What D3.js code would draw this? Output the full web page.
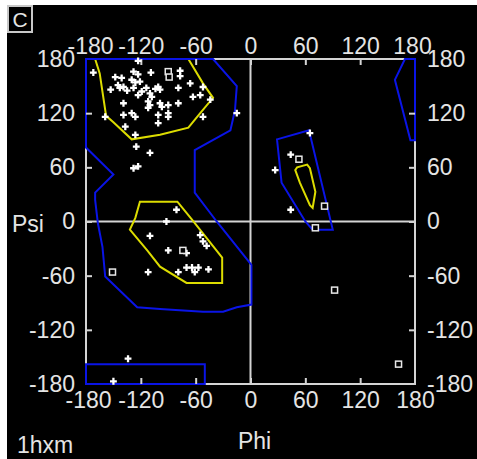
<!DOCTYPE html>
<html>
<head>
<meta charset="utf-8">
<script src="https://cdn.jsdelivr.net/npm/d3@7"></script>
<style>
html, body { margin: 0; padding: 0; background: #fff; }
svg { display: block; }
</style>
</head>
<body>
<div id="chart"></div>
<script>
// axis tick values
const phiTicks = [-180, -120, -60, 0, 60, 120, 180];
const psiTicks = [-180, -120, -60, 0, 60, 120, 180];

// allowed regions (blue), [phi, psi]
const allowedMain = [[-180,180],[-41,180],[-15,150],[-17,123],[-22,101],[-61,79],[-61,32],[-37,0],[1,-48],[1,-92],[-15,-95],[-30,-100],[-52,-100],[-99,-97],[-124,-95],[-159,-61],[-162,-28],[-167,-2],[-170,24],[-170,32],[-150,52],[-180,82]];
const allowedBottom = [[-180,-158],[-50,-158],[-50,-180],[-180,-180]];
const allowedEdge = [[169,180],[180,180],[180,90],[175,90],[158,157]];
const allowedLeftHand = [[29,91],[64,101],[90,-9],[68,-9],[60,0],[34,43]];

// core regions (yellow)
const coreBeta = [[-170,180],[-165,164],[-158,117],[-150,110],[-130,91],[-99,96],[-68,104],[-55,120],[-41,137],[-52,153],[-68,180]];
const coreAlpha = [[-121,22],[-80,22],[-64,2],[-31,-40],[-31,-68],[-70,-68],[-99,-50],[-113,-32],[-132,-9],[-126,4]];
const coreLeftHand = [[49,57],[51,60],[62,63],[65,59],[71,33],[68,15],[65,18],[54,43]];

// residues (non-glycine), [phi, psi]
const residues = [
  [-172,165],[-123,178],[-128,166],[-123,163],[-109,165],[-77,167],[-77,161],[-148,160],[-141,159],
  [-145,151],[-143,148],[-139,149],[-130,157],[-126,154],[-121,155],[-153,146],[-135,145],[-128,148],
  [-123,140],[-119,144],[-114,148],[-110,142],[-108,138],[-104,147],[-101,149],[-99,146],[-112,133],
  [-110,129],[-112,126],[-99,131],[-97,127],[-90,129],[-79,148],[-66,153],[-79,131],[-63,138],
  [-55,140],[-52,149],[-44,135],[-139,131],[-159,116],[-139,118],[-130,120],[-126,116],[-101,118],
  [-90,116],[-90,120],[-101,109],[-52,116],[-137,105],[-126,96],[-125,83],[-110,76],[-15,120],
  [-128,59],[-123,61],
  [-81,13],[-92,0],[-110,-16],[-90,-32],[-70,-35],[-55,-15],[-52,-22],[-48,-27],[-112,-56],
  [-79,-56],[-70,-51],[-64,-51],[-61,-56],[-57,-51],[-46,-53],
  [-134,-152],[-150,-177],
  [65,98],[44,74],[27,57],[44,13]
];
// glycines (squares)
const glycines = [[-90,166],[-89,160],[-74,-32],[-151,-56],[53,69],[81,17],[71,-7],[92,-76],[162,-158]];

const W = 477, H = 459;
const fontFam = '"Liberation Sans Narrow", "Liberation Sans", Arial, sans-serif';
const lineCol = "#d4d4d4";
const textCol = "#e4e4e4";

const svg = d3.select("#chart").append("svg")
  .attr("width", W).attr("height", H);

svg.append("rect").attr("x", 7).attr("y", 5)
  .attr("width", W - 7).attr("height", H - 5).attr("fill", "#000");

const x = d3.scaleLinear().domain([-180, 180]).range([86, 415]);
const y = d3.scaleLinear().domain([-180, 180]).range([384, 59]);

// frame + zero lines
svg.append("rect")
  .attr("x", x(-180)).attr("y", y(180))
  .attr("width", x(180) - x(-180)).attr("height", y(-180) - y(180))
  .attr("fill", "none").attr("stroke", lineCol).attr("stroke-width", 2);
svg.append("line").attr("x1", x(0)).attr("x2", x(0)).attr("y1", y(180)).attr("y2", y(-180))
  .attr("stroke", lineCol).attr("stroke-width", 2);
svg.append("line").attr("x1", x(-180)).attr("x2", x(180)).attr("y1", y(0)).attr("y2", y(0))
  .attr("stroke", lineCol).attr("stroke-width", 2);

const line = d3.line().x(d => x(d[0])).y(d => y(d[1]));

svg.selectAll(".core")
  .data([coreBeta, coreAlpha, coreLeftHand])
  .join("path")
  .attr("class", "core")
  .attr("d", d => line(d) + "Z")
  .attr("fill", "none").attr("stroke", "#dcdc00").attr("stroke-width", 2);

svg.selectAll(".allowed")
  .data([allowedMain, allowedBottom, allowedEdge, allowedLeftHand])
  .join("path")
  .attr("class", "allowed")
  .attr("d", d => line(d) + "Z")
  .attr("fill", "none").attr("stroke", "#0a14e6").attr("stroke-width", 2);

// axes: inward ticks, labels outside
function styleAxis(g) {
  g.select(".domain").remove();
  g.attr("font-family", fontFam).attr("font-size", 23);
  g.selectAll(".tick line").attr("stroke", lineCol).attr("stroke-width", 2);
  g.selectAll(".tick line").filter(d => Math.abs(d) === 180).remove();
  g.selectAll(".tick text").attr("fill", textCol);
}
const fmt = d => String(d);

svg.append("g").attr("transform", `translate(0,${y(180)})`)
  .call(d3.axisTop(x).tickValues(phiTicks).tickSize(-6).tickPadding(5).tickFormat(fmt))
  .call(styleAxis)
  .selectAll(".tick text").attr("dx", d => d === -180 ? 4 : d === 180 ? -3 : 0);

svg.append("g").attr("transform", `translate(0,${y(-180)})`)
  .call(d3.axisBottom(x).tickValues(phiTicks).tickSize(-6).tickPadding(8).tickFormat(fmt))
  .call(styleAxis)
  .selectAll(".tick text").attr("dx", d => d === -180 ? 2 : 0);

svg.append("g").attr("transform", `translate(${x(-180)},0)`)
  .call(d3.axisLeft(y).tickValues(psiTicks).tickSize(-6).tickPadding(11).tickFormat(fmt))
  .call(styleAxis);

svg.append("g").attr("transform", `translate(${x(180)},0)`)
  .call(d3.axisRight(y).tickValues(psiTicks).tickSize(-6).tickPadding(12).tickFormat(fmt))
  .call(styleAxis);

// residues
const cross = d3.symbol().type(d3.symbolCross).size(26);
svg.selectAll(".res")
  .data(residues)
  .join("path")
  .attr("class", "res")
  .attr("transform", d => `translate(${x(d[0])},${y(d[1])})`)
  .attr("d", cross)
  .attr("fill", "#fff");

svg.selectAll(".gly")
  .data(glycines)
  .join("rect")
  .attr("class", "gly")
  .attr("x", d => x(d[0]) - 3).attr("y", d => y(d[1]) - 3)
  .attr("width", 6).attr("height", 6)
  .attr("fill", "#000").attr("stroke", "#e8e8e8").attr("stroke-width", 1.5);

// labels
const label = (txt, px, py, anchor) => svg.append("text")
  .attr("x", px).attr("y", py).attr("text-anchor", anchor || "start")
  .attr("font-family", fontFam).attr("font-size", 23).attr("fill", textCol)
  .text(txt);

label("Phi", x(0) + 4, 449, "middle");
label("Psi", 12, 232);
label("1hxm", 17, 453);

svg.append("rect").attr("x", 8).attr("y", 6).attr("width", 24).attr("height", 26)
  .attr("fill", "#000").attr("stroke", "#c8c8c8").attr("stroke-width", 2);
svg.append("text").attr("x", 20).attr("y", 27).attr("text-anchor", "middle")
  .attr("font-family", fontFam).attr("font-size", 21).attr("fill", textCol)
  .text("C");
</script>
</body>
</html>
